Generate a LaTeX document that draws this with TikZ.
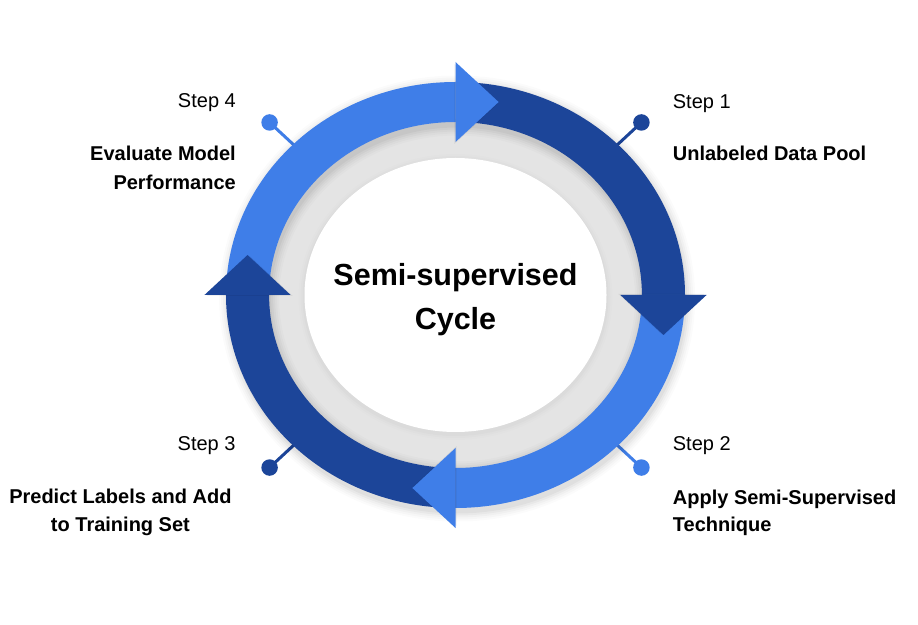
\documentclass[tikz,border=0pt]{standalone}
\usepackage{fontspec}
\setmainfont{Liberation Sans}
\usetikzlibrary{calc}
\definecolor{dkblue}{HTML}{1C4599}
\definecolor{ltblue}{HTML}{3F7EE8}
\definecolor{ringgray}{HTML}{E4E4E4}
\begin{document}
\begin{tikzpicture}[x=1pt,y=1pt,
  steplbl/.style={font=\fontsize{20}{24}\selectfont, inner sep=0pt},
  titlelbl/.style={font=\fontsize{20}{24}\selectfont\bfseries, inner sep=0pt},
  centerlbl/.style={font=\fontsize{30.5}{36}\selectfont\bfseries, inner sep=0pt},
  dotline/.style={line width=3pt},
  dotnode/.style={circle, minimum size=16.5pt, inner sep=0pt},
]
\useasboundingbox (0,0) rectangle (918,624);
\fill[white] (0,0) rectangle (918,624);
\coordinate (c) at (455.5,329);
\begin{scope}[shift={(455.5,329)}, xscale=1.0775]
  % gray ring background
  \fill[ringgray] (0,0) circle (176);
  % connector end points under the ring
  \coordinate (e1) at (45:200);
  \coordinate (e2) at (-45:200);
  \coordinate (e3) at (-135:200);
  \coordinate (e4) at (135:200);
  \node[dotnode, fill=dkblue] (dot1) at (45:244) {};
  \node[dotnode, fill=ltblue] (dot2) at (-45:244) {};
  \node[dotnode, fill=dkblue] (dot3) at (-135:244) {};
  \node[dotnode, fill=ltblue] (dot4) at (135:244) {};
\end{scope}
% white centre with soft shadow
\foreach \r/\o in {6/0.008,4/0.012,2/0.016}
  \fill[black, opacity=\o] ($(c)+(0,-2)$) ellipse [x radius=151+\r, y radius=137+\r];
\fill[white] (c) ellipse [x radius=151, y radius=137];
% connectors
\draw[dkblue, dotline] (dot1.center) -- (e1);
\draw[ltblue, dotline] (dot2.center) -- (e2);
\draw[dkblue, dotline] (dot3.center) -- (e3);
\draw[ltblue, dotline] (dot4.center) -- (e4);
\begin{scope}[shift={(455.5,329)}, xscale=1.0775]
  % ring shadow
  \foreach \w/\o in {60/0.015, 56/0.02, 52/0.025, 48/0.03, 44/0.035}
    \draw[black, opacity=\o, line width=\w] (1.5,-3.5) circle (193);
  % ring bodies
  \fill[dkblue] (90:213) arc[start angle=90,end angle=0,radius=213] -- (0:173) arc[start angle=0,end angle=90,radius=173] -- cycle;
  \fill[ltblue] (0:213) arc[start angle=0,end angle=-90,radius=213] -- (-90:173) arc[start angle=-90,end angle=0,radius=173] -- cycle;
  \fill[dkblue] (-90:213) arc[start angle=-90,end angle=-180,radius=213] -- (-180:173) arc[start angle=-180,end angle=-90,radius=173] -- cycle;
  \fill[ltblue] (180:213) arc[start angle=180,end angle=90,radius=213] -- (90:173) arc[start angle=90,end angle=180,radius=173] -- cycle;
  % head shadows
  \foreach \a in {0,-90,-180,90}
    \fill[black, opacity=0.06, rotate=\a+90, shift={(-1,-2)}] (0,153) -- (0,233) -- (40,193) -- cycle;
  % arrow heads
  \fill[dkblue] (153,0) -- (233,0) -- (193,-40) -- cycle;
  \fill[ltblue] (0,-153) -- (0,-233) -- (-40,-193) -- cycle;
  \fill[dkblue] (-153,0) -- (-233,0) -- (-193,40) -- cycle;
  \fill[ltblue] (0,153) -- (0,233) -- (40,193) -- cycle;
\end{scope}
% labels
\node[steplbl, anchor=base west] (s1) at (672.7,515.7) {Step 1};
\node[titlelbl, anchor=base west] (t1) at (672.7,463.3) {Unlabeled Data Pool};
\node[steplbl, anchor=base west] (s2) at (672.7,173.3) {Step 2};
\node[titlelbl, anchor=base west] (t2a) at (672.7,120) {Apply Semi-Supervised};
\node[titlelbl, anchor=base west] (t2b) at (672.7,93) {Technique};
\node[steplbl, anchor=base east] (s3) at (235.7,173.3) {Step 3};
\node[titlelbl, anchor=base] (t3a) at (120.4,120.7) {Predict Labels and Add};
\node[titlelbl, anchor=base] (t3b) at (120.4,92.3) {to Training Set};
\node[steplbl, anchor=base east] (s4) at (236,516.3) {Step 4};
\node[titlelbl, anchor=base east] (t4a) at (236,463) {Evaluate Model};
\node[titlelbl, anchor=base east] (t4b) at (236,434) {Performance};
\node[centerlbl, anchor=base] (ctr1) at (455.5,338.3) {Semi-supervised};
\node[centerlbl, anchor=base] (ctr2) at (455.5,294) {Cycle};
\end{tikzpicture}
\end{document}
